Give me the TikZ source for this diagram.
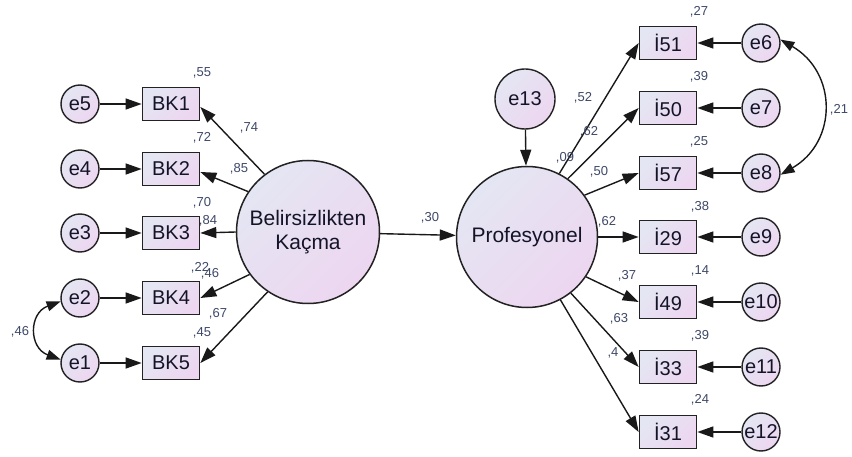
\documentclass[tikz,border=0pt]{standalone}
\usepackage{fontspec}
\setmainfont{Liberation Sans}
\usetikzlibrary{arrows.meta}
\definecolor{shadeA}{RGB}{228,230,243}
\definecolor{shadeB}{RGB}{237,214,240}
\definecolor{edgecol}{RGB}{34,34,34}
\definecolor{namecol}{RGB}{20,20,40}
\definecolor{coefcol}{RGB}{62,72,104}
\tikzset{
  lavfill/.style={top color=shadeA, bottom color=shadeB, shading angle=45},
  obsbox/.style={draw=edgecol, line width=1.7pt, lavfill, minimum width=57pt,
    minimum height=33pt, inner sep=0pt, text=namecol, font=\fontsize{20}{22}\selectfont},
  errnode/.style={circle, draw=edgecol, line width=1.4pt, lavfill, minimum size=38pt,
    inner sep=0pt, text=namecol, font=\fontsize{20}{22}\selectfont},
  latent/.style={circle, draw=edgecol, line width=1.5pt, lavfill, inner sep=0pt,
    align=center, text=namecol, font=\fontsize{21}{24}\selectfont},
  regpath/.style={draw=black!90, line width=1.4pt, -{Triangle[length=16pt,width=11pt]}},
  covpath/.style={draw=black!90, line width=1.4pt,
    {Triangle[length=14pt,width=10pt]}-{Triangle[length=14pt,width=10pt]}},
  coef/.style={text=coefcol, font=\fontsize{13}{14}\selectfont, inner sep=0pt},
}
\begin{document}
\begin{tikzpicture}[x=1pt,y=-1pt]
\fill[white] (0,0) rectangle (852,457);
\useasboundingbox (0,0) rectangle (852,457);

% latent variables
\node[latent, minimum size=143pt] (L) at (308,232) {Belirsizlikten\\Kaçma};
\node[latent, minimum size=141pt] (P) at (527,237) {Profesyonel};
\node[errnode, minimum size=60pt] (e13) at (525,99) {e13};

% left indicators and their errors
\foreach \nm/\er/\yy in {BK1/e5/104, BK2/e4/169, BK3/e3/233, BK4/e2/298, BK5/e1/363}{
  \node[obsbox] (\nm) at (171,\yy) {\nm};
  \node[errnode] (\er) at (80,\yy) {\er};
}

% right indicators and their errors
\foreach \nm/\lb/\er/\yy in {I51/İ51/e6/43, I50/İ50/e7/108, I57/İ57/e8/173, I29/İ29/e9/237,
    I49/İ49/e10/302, I33/İ33/e11/367, I31/İ31/e12/432}{
  \node[obsbox] (\nm) at (668,\yy) {\lb};
  \node[errnode] (\er) at (761,\yy) {\er};
}

% partly hidden loading label
\node[coef] (c31) at (613,353) {,4};

% error terms
\foreach \er/\nm in {e5/BK1, e4/BK2, e3/BK3, e2/BK4, e1/BK5}
  \draw[regpath] (\er) -- (\nm);
\foreach \er/\nm in {e6/I51, e7/I50, e8/I57, e9/I29, e10/I49, e11/I33, e12/I31}
  \draw[regpath] (\er) -- (\nm);
\draw[regpath] (e13) -- (P);

% loadings
\draw[regpath] (L.127) -- ([yshift=-3pt]BK1.east);
\draw[regpath] (L.146) -- ([yshift=-3pt]BK2.east);
\draw[regpath] (L.180) -- (BK3.east);
\draw[regpath] (L.216) -- (BK4.east);
\draw[regpath] (L.236) -- (BK5.east);

\draw[regpath] (P.63) -- (I51.west);
\draw[regpath] (P.55) -- (I50.west);
\draw[regpath] (P.36) -- (I57.west);
\draw[regpath] (P.0) -- (I29.west);
\draw[regpath] (P.-34) -- (I49.west);
\draw[regpath] (P.-52) -- (I33.west);
\draw[regpath] (P.-62) -- (I31.west);

% structural path
\draw[regpath] (L) -- (P);

% covariances
\draw[covpath] (e2.190) to[out=200,in=160,looseness=1.5] (e1.170);
\draw[covpath] (e6.10) to[out=-30,in=30,looseness=1.25] (e8.-5);

% coefficients
\node[coef] (r1) at (202,73) {,55};
\node[coef] (r2) at (202,138) {,72};
\node[coef] (r3) at (202,203) {,70};
\node[coef] (r4) at (200,268) {,22};
\node[coef] (r5) at (202,333) {,45};
\node[coef] (l1) at (249,128) {,74};
\node[coef] (l2) at (239,169) {,85};
\node[coef] (l3) at (208,221) {,84};
\node[coef] (l4) at (210,274) {,46};
\node[coef] (l5) at (218,314) {,67};
\node[coef] (c12) at (20,332) {,46};
\node[coef] (s1) at (430,218) {,30};

\node[coef] (q1) at (699,12) {,27};
\node[coef] (q2) at (699,77) {,39};
\node[coef] (q3) at (699,142) {,25};
\node[coef] (q4) at (700,207) {,38};
\node[coef] (q5) at (700,271) {,14};
\node[coef] (q6) at (700,336) {,39};
\node[coef] (q7) at (700,400) {,24};
\node[coef] (m1) at (583,98) {,52};
\node[coef] (m2) at (589,132) {,62};
\node[coef] (m0) at (565,158) {,09};
\node[coef] (m3) at (599,172) {,50};
\node[coef] (m4) at (607,222) {,62};
\node[coef] (m5) at (627,276) {,37};
\node[coef] (m6) at (619,319) {,63};
\node[coef] (c68) at (839,110) {,21};
\end{tikzpicture}
\end{document}
